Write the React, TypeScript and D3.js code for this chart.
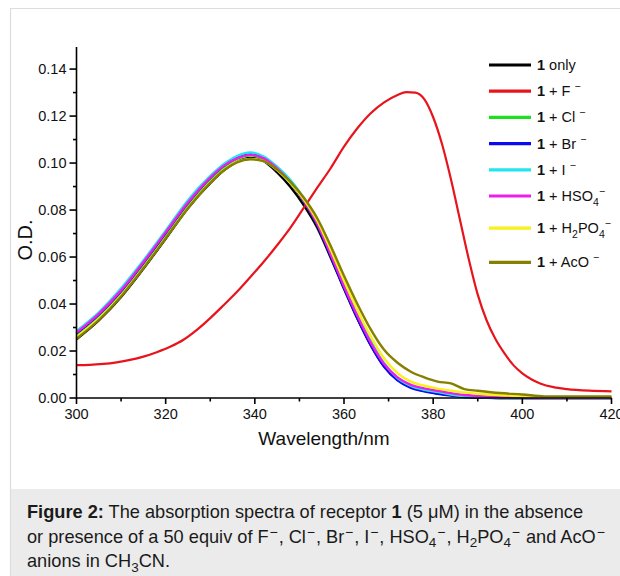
import React from "react";
import * as d3 from "d3";

// ---------- data ----------
const WL = [300, 305, 310, 315, 320, 325, 330, 333, 336, 339, 342, 345, 348, 351, 354, 357, 360, 363, 366, 369, 372, 375, 378, 381, 384, 387, 390, 395, 400, 405, 410, 420];

const onlyVals = [0.0250, 0.0330, 0.0430, 0.0550, 0.0678, 0.0808, 0.0915, 0.0968, 0.1005, 0.1022, 0.1008, 0.0960, 0.0898, 0.0820, 0.0725, 0.0598, 0.0465, 0.0338, 0.0225, 0.0135, 0.0078, 0.0046, 0.0030, 0.0020, 0.0012, 0.0006, 0.0003, 0, 0, 0, 0, 0];
const clVals = [0.0270, 0.0350, 0.0450, 0.0570, 0.0697, 0.0825, 0.0932, 0.0983, 0.1018, 0.1033, 0.1018, 0.0975, 0.0915, 0.0838, 0.0740, 0.0610, 0.0473, 0.0346, 0.0232, 0.0140, 0.0082, 0.0050, 0.0035, 0.0026, 0.0016, 0.0009, 0.0005, 0.0002, 0, 0, 0, 0];
const brVals = [0.0275, 0.0355, 0.0455, 0.0575, 0.0702, 0.0830, 0.0937, 0.0988, 0.1022, 0.1038, 0.1022, 0.0978, 0.0918, 0.0838, 0.0738, 0.0605, 0.0468, 0.0340, 0.0225, 0.0133, 0.0075, 0.0043, 0.0028, 0.0018, 0.0010, 0.0004, 0.0002, 0, 0, 0, 0, 0];
const iVals = [0.0285, 0.0365, 0.0467, 0.0585, 0.0712, 0.0842, 0.0945, 0.0995, 0.1030, 0.1045, 0.1028, 0.0985, 0.0928, 0.0850, 0.0755, 0.0625, 0.0490, 0.0362, 0.0245, 0.0148, 0.0085, 0.0052, 0.0035, 0.0025, 0.0015, 0.0008, 0.0004, 0.0001, 0, 0, 0, 0];
const hso4Vals = [0.0278, 0.0358, 0.0458, 0.0578, 0.0705, 0.0832, 0.0938, 0.0988, 0.1020, 0.1035, 0.1020, 0.0977, 0.0918, 0.0840, 0.0742, 0.0612, 0.0476, 0.0350, 0.0236, 0.0145, 0.0088, 0.0056, 0.0041, 0.0031, 0.0021, 0.0013, 0.0009, 0.0004, 0.0001, 0, 0, 0];
const h2po4Vals = [0.0260, 0.0338, 0.0436, 0.0555, 0.0682, 0.0810, 0.0918, 0.0970, 0.1005, 0.1018, 0.1008, 0.0970, 0.0915, 0.0845, 0.0755, 0.0632, 0.0500, 0.0375, 0.0262, 0.0168, 0.0106, 0.0070, 0.0052, 0.0040, 0.0031, 0.0024, 0.0018, 0.0012, 0.0008, 0.0003, 0.0003, 0.0003];
const acoVals = [0.0252, 0.0332, 0.0432, 0.0552, 0.0680, 0.0808, 0.0916, 0.0968, 0.1003, 0.1016, 0.1008, 0.0972, 0.0920, 0.0852, 0.0765, 0.0648, 0.0520, 0.0400, 0.0292, 0.0205, 0.0150, 0.0112, 0.0088, 0.0070, 0.0062, 0.0038, 0.0031, 0.0021, 0.0015, 0.0007, 0.0007, 0.0007];

const RED_WL = [300, 303, 306, 309, 312, 315, 318, 321, 324, 327, 330, 333, 336, 339, 342, 345, 348, 351, 354, 357, 360, 363, 366, 369, 372, 374, 376, 378, 380, 382, 384, 386, 388, 390, 392, 394, 396, 398, 400, 402, 404, 407, 410, 415, 420];
const fVals = [0.0140, 0.0141, 0.0145, 0.0152, 0.0162, 0.0176, 0.0195, 0.0218, 0.0248, 0.0290, 0.0340, 0.0395, 0.0452, 0.0515, 0.0580, 0.0650, 0.0725, 0.0810, 0.0895, 0.0978, 0.1070, 0.1148, 0.1212, 0.1258, 0.1290, 0.1302, 0.1300, 0.1272, 0.1195, 0.1080, 0.0930, 0.0760, 0.0590, 0.0440, 0.0330, 0.0250, 0.0190, 0.0140, 0.0105, 0.0080, 0.0062, 0.0046, 0.0038, 0.0031, 0.0028];

const X_TICKS = [300, 320, 340, 360, 380, 400, 420];
const Y_TICKS = [0, 0.02, 0.04, 0.06, 0.08, 0.10, 0.12, 0.14];

type Part = { t: string; b?: boolean; sup?: boolean; sub?: boolean };

const SERIES: { name: string; color: string; wl: number[]; vals: number[]; label: Part[] }[] = [
  { name: "only", color: "#000000", wl: WL, vals: onlyVals, label: [{ t: "1", b: true }, { t: " only" }] },
  { name: "F", color: "#e8141b", wl: RED_WL, vals: fVals, label: [{ t: "1", b: true }, { t: " + F " }, { t: "\u2212", sup: true }] },
  { name: "Cl", color: "#1fe01f", wl: WL, vals: clVals, label: [{ t: "1", b: true }, { t: " + Cl " }, { t: "\u2212", sup: true }] },
  { name: "Br", color: "#0a0aee", wl: WL, vals: brVals, label: [{ t: "1", b: true }, { t: " + Br " }, { t: "\u2212", sup: true }] },
  { name: "I", color: "#22e6ee", wl: WL, vals: iVals, label: [{ t: "1", b: true }, { t: " + I " }, { t: "\u2212", sup: true }] },
  { name: "HSO4", color: "#ee1ee8", wl: WL, vals: hso4Vals, label: [{ t: "1", b: true }, { t: " + HSO" }, { t: "4", sub: true }, { t: "\u2212", sup: true }] },
  { name: "H2PO4", color: "#f6f21a", wl: WL, vals: h2po4Vals, label: [{ t: "1", b: true }, { t: " + H" }, { t: "2", sub: true }, { t: "PO" }, { t: "4", sub: true }, { t: "\u2212", sup: true }] },
  { name: "AcO", color: "#858000", wl: WL, vals: acoVals, label: [{ t: "1", b: true }, { t: " + AcO " }, { t: "\u2212", sup: true }] },
];

const CAPTION: Part[][] = [
  [{ t: "Figure 2:", b: true }, { t: " The absorption spectra of receptor " }, { t: "1", b: true }, { t: " (5 \u03bcM) in the absence" }],
  [
    { t: "or presence of a 50 equiv of F" }, { t: "\u2212", sup: true }, { t: ", Cl" }, { t: "\u2212", sup: true },
    { t: ", Br" }, { t: "\u2212", sup: true }, { t: ", I" }, { t: "\u2212", sup: true },
    { t: ", HSO" }, { t: "4", sub: true }, { t: "\u2212", sup: true },
    { t: ", H" }, { t: "2", sub: true }, { t: "PO" }, { t: "4", sub: true }, { t: "\u2212", sup: true },
    { t: " and AcO" }, { t: "\u2212", sup: true },
  ],
  [{ t: "anions in CH" }, { t: "3", sub: true }, { t: "CN." }],
];

// ---------- layout ----------
const W = 620;
const H = 576;
const FONT = "'Liberation Sans', Arial, Helvetica, sans-serif";

function renderParts(parts: Part[], fs: number, supShift: number, subShift: number, small: number, supSize: number, supPad: number) {
  let cur = 0; // current baseline offset
  let prevSup = false;
  return parts.map((p, i) => {
    const target = p.sup ? -supShift : p.sub ? subShift : 0;
    const dy = target - cur;
    cur = target;
    const dx = p.sup ? supPad : prevSup ? supPad : 0;
    prevSup = !!p.sup;
    return (
      <tspan
        key={i}
        dy={dy}
        dx={dx}
        fontWeight={p.b ? "bold" : "normal"}
        fontSize={p.sup ? supSize : p.sub ? small : fs}
      >
        {p.t}
      </tspan>
    );
  });
}

export default function App() {
  const x = d3.scaleLinear().domain([300, 420]).range([76.5, 611.5]);
  const y = d3.scaleLinear().domain([0, 0.1494]).range([398, 47]);

  const line = (wl: number[]) =>
    d3
      .line<number>()
      .x((_, i) => x(wl[i]))
      .y((v) => y(v))
      .curve(d3.curveMonotoneX);

  const xMinor = d3.range(310, 420, 20);
  const yMinor = d3.range(0.01, 0.15, 0.02);

  return (
    <svg
      width={W}
      height={H}
      style={{ position: "absolute", left: 0, top: 0, display: "block", background: "#fff" }}
      fontFamily={FONT}
    >
      {/* frame */}
      <line x1={10.5} y1={8} x2={10.5} y2={H} stroke="#dcdcdc" strokeWidth={1.2} />
      <line x1={10} y1={8.5} x2={W} y2={8.5} stroke="#dcdcdc" strokeWidth={1.2} />
      <rect x={11} y={489} width={W - 11} height={H - 489} fill="#ebebeb" />

      {/* series */}
      {SERIES.map((s) => (
        <path
          key={s.name}
          d={line(s.wl)(s.vals) || ""}
          fill="none"
          stroke={s.color}
          strokeWidth={s.name === "F" ? 2.2 : 2.4}
          strokeLinejoin="round"
        />
      ))}

      {/* axes */}
      <g stroke="#000" strokeWidth={1.6}>
        <line x1={x(300)} y1={y(0)} x2={x(420)} y2={y(0)} />
        <line x1={x(300)} y1={y(0) + 0.8} x2={x(300)} y2={47} />
        {X_TICKS.map((t) => (
          <line key={"xt" + t} x1={x(t)} x2={x(t)} y1={y(0)} y2={y(0) + 6} />
        ))}
        {xMinor.map((t) => (
          <line key={"xm" + t} x1={x(t)} x2={x(t)} y1={y(0)} y2={y(0) + 3.5} />
        ))}
        {Y_TICKS.map((t) => (
          <line key={"yt" + t} x1={x(300) - 7} x2={x(300)} y1={y(t)} y2={y(t)} />
        ))}
        {yMinor.map((t) => (
          <line key={"ym" + t} x1={x(300) - 3.5} x2={x(300)} y1={y(t)} y2={y(t)} />
        ))}
      </g>
      <g fontSize={14.5} fill="#111">
        {X_TICKS.map((t) => (
          <text key={"xl" + t} x={x(t)} y={419} textAnchor="middle">
            {d3.format("d")(t)}
          </text>
        ))}
        {Y_TICKS.map((t) => (
          <text key={"yl" + t} x={66.5} y={y(t) + 5} textAnchor="end">
            {d3.format(".2f")(t)}
          </text>
        ))}
      </g>
      <text x={324} y={445} textAnchor="middle" fontSize={19} fill="#111">
        Wavelength/nm
      </text>
      <text transform={`translate(32,240) rotate(-90)`} textAnchor="middle" fontSize={20} fill="#111">
        O.D.
      </text>

      {/* legend */}
      {SERIES.map((s, i) => {
        const ly = 65 + i * 26.2 + (i >= 6 ? 6 : 0) + (i >= 7 ? 8 : 0);
        return (
          <g key={"lg" + s.name}>
            <line x1={489} x2={531} y1={ly} y2={ly} stroke={s.color} strokeWidth={3.2} />
            <text x={537} y={ly + 5} fontSize={14.5} fill="#111">
              {renderParts(s.label, 14.5, 6, 5, 10.5, 10.5, 0)}
            </text>
          </g>
        );
      })}

      {/* caption */}
      {CAPTION.map((ln, i) => (
        <text key={"cap" + i} x={27} y={518 + i * 24.5} fontSize={18.2} fill="#1a1a1a">
          {renderParts(ln, 18.2, 6, 4.5, 13.5, 14, 0.9)}
        </text>
      ))}
    </svg>
  );
}
